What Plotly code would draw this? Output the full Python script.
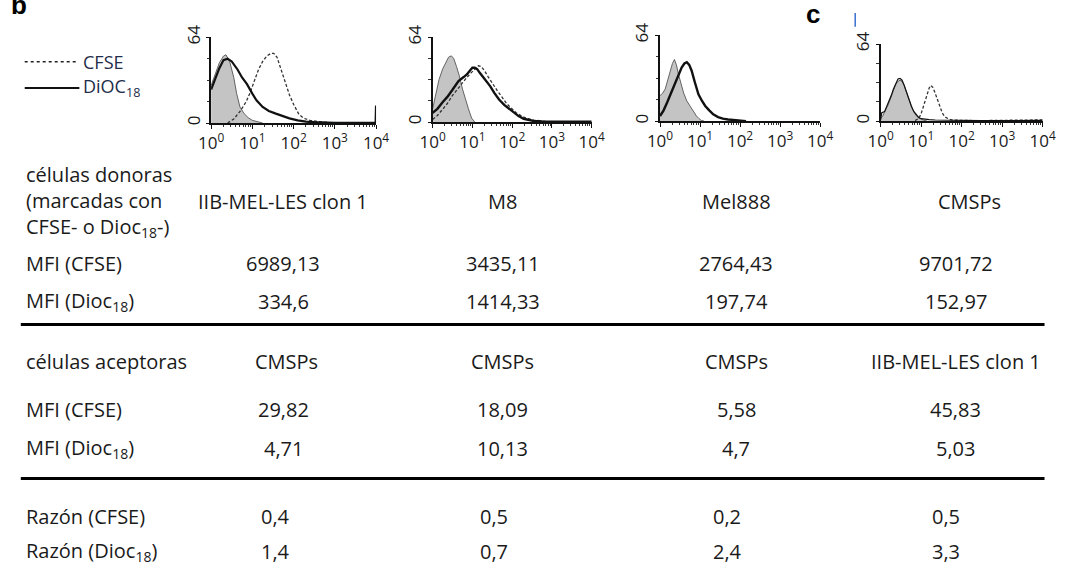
import plotly.graph_objects as go

W, H = 1079, 569

# ---------------- histogram data (x in decades, log10 of intensity; y counts 0-64) ----------------
P1_CTRL_X = [0, 0.1, 0.2, 0.3, 0.36, 0.45, 0.55, 0.62, 0.7, 0.8, 0.9, 1.0, 1.1, 1.25]
P1_CTRL_Y = [28, 36, 45, 50, 51, 46, 34, 22, 12, 7, 4, 2, 1, 0]
P1_DIOC_X = [0, 0.1, 0.2, 0.3, 0.4, 0.5, 0.64, 0.75, 0.87, 1.0, 1.1, 1.25, 1.4, 1.57, 1.75, 1.9,
             2.1, 2.3, 2.5, 2.7, 3.0, 3.5, 3.99, 4.0]
P1_DIOC_Y = [25, 33, 41, 47, 48, 46, 40, 34, 29, 22, 17, 12, 9, 7, 5, 3.5, 2, 1, 0.6, 0.3, 0.2, 0.2, 0.3, 13]
P1_CFSE_X = [0.4, 0.55, 0.71, 0.85, 0.95, 1.05, 1.15, 1.25, 1.35, 1.45, 1.52, 1.6, 1.7, 1.8, 1.9,
             2.0, 2.13, 2.25, 2.4, 2.6, 2.8, 3.0]
P1_CFSE_Y = [0, 3, 9, 16, 23, 32, 40, 46, 50, 52, 52, 49, 40, 30, 21, 14, 6.5, 3.5, 2, 1, 0.5, 0]

P2_CTRL_X = [0, 0.08, 0.16, 0.25, 0.33, 0.4, 0.47, 0.53, 0.6, 0.67, 0.75, 0.83, 0.9, 0.98, 1.06]
P2_CTRL_Y = [10, 20, 32, 40, 45, 49, 50, 48, 42, 35, 25, 16, 10, 3, 0]
P2_DIOC_X = [0, 0.12, 0.25, 0.37, 0.49, 0.57, 0.65, 0.78, 0.86, 0.94, 1.0, 1.06, 1.12, 1.19, 1.27,
             1.35, 1.45, 1.55, 1.67, 1.8, 1.92, 2.04, 2.16, 2.29, 2.42, 2.54, 2.75, 3.0, 3.5, 4.0]
P2_DIOC_Y = [7, 10, 15, 19, 24, 28, 31, 34, 36, 39, 41, 41, 40, 37, 34, 31, 27, 22, 17, 13, 10, 7,
             4.5, 2.5, 1.5, 0.8, 0.4, 0.3, 0.2, 0.2]
P2_CFSE_X = [0, 0.12, 0.25, 0.37, 0.49, 0.6, 0.72, 0.84, 0.96, 1.06, 1.15, 1.22, 1.3, 1.4, 1.5,
             1.62, 1.74, 1.86, 1.96, 2.1, 2.21, 2.35, 2.54, 2.7, 2.86, 3.0]
P2_CFSE_Y = [2, 5, 9.6, 14, 19.7, 24, 29, 33, 37, 40, 42.5, 42, 39, 34, 29, 24, 19, 14, 11, 7, 5, 3,
             1.5, 0.8, 0.5, 0]

P3_CTRL_X = [0, 0.07, 0.13, 0.2, 0.26, 0.31, 0.36, 0.41, 0.46, 0.52, 0.59, 0.67, 0.75, 0.83, 0.91,
             0.97, 1.03, 1.1]
P3_CTRL_Y = [19, 21, 24, 31, 38, 43, 46, 42, 35, 28, 21, 15, 11, 7, 3.8, 2, 0.5, 0]
P3_DIOC_X = [0, 0.09, 0.18, 0.28, 0.38, 0.46, 0.54, 0.61, 0.67, 0.73, 0.79, 0.87, 0.96, 1.05, 1.13,
             1.23, 1.33, 1.45, 1.57, 1.7, 1.82, 2.0, 2.15]
P3_DIOC_Y = [3.8, 8, 14, 21, 29, 35, 40, 43, 44, 42, 37.6, 29, 20, 15, 11.3, 8, 5, 3, 1.8, 1.2, 0.8,
             0.4, 0]

P4_CTRL_X = [0, 0.05, 0.1, 0.18, 0.26, 0.32, 0.38, 0.43, 0.48, 0.53, 0.58, 0.64, 0.7, 0.76, 0.82,
             0.88, 0.94, 1.0, 1.06, 1.15]
P4_CTRL_Y = [2, 4, 7.7, 13, 20, 26, 31, 33, 34, 33, 30, 24, 17, 12, 7.7, 4.5, 2.7, 1.5, 0.8, 0]
P4_DIOC_X = [0, 0.03, 0.1, 0.18, 0.26, 0.32, 0.38, 0.43, 0.48, 0.53, 0.58, 0.64, 0.7, 0.76, 0.82,
             0.88, 0.94, 1.0, 1.1, 1.2, 1.35, 1.5, 1.7, 2.0, 2.5, 3.0, 3.5, 4.0]
P4_DIOC_Y = [1, 7, 8, 14, 21, 27, 32, 35, 35.5, 34, 30, 24, 17.5, 12.5, 8, 5, 3, 2, 1.5, 1.2, 0.9,
             0.8, 0.6, 0.5, 0.4, 0.4, 0.5, 0.6]
P4_CFSE_X = [0.85, 0.94, 1.0, 1.06, 1.11, 1.16, 1.2, 1.24, 1.29, 1.34, 1.4, 1.46, 1.52, 1.58, 1.68,
             1.78, 1.9, 2.1, 2.5, 3.0, 3.3, 3.6, 3.8, 4.0]
P4_CFSE_Y = [0.5, 2, 6, 13, 19, 24, 27.5, 29.7, 28, 24, 18, 11.8, 7, 3.6, 1.8, 0.8, 0.6, 0.5, 0.4,
             0.6, 0.8, 1, 1.2, 1]

X_TICK_EXP = [0, 1, 2, 3, 4]
Y_TICKS = [0, 64]

# ---------------- table data ----------------
DONOR_CELLS = ["IIB-MEL-LES clon 1", "M8", "Mel888", "CMSPs"]
DONOR_MFI_CFSE = ["6989,13", "3435,11", "2764,43", "9701,72"]
DONOR_MFI_DIOC = ["334,6", "1414,33", "197,74", "152,97"]
ACCEPTOR_CELLS = ["CMSPs", "CMSPs", "CMSPs", "IIB-MEL-LES clon 1"]
ACC_MFI_CFSE = ["29,82", "18,09", "5,58", "45,83"]
ACC_MFI_DIOC = ["4,71", "10,13", "4,7", "5,03"]
RATIO_CFSE = ["0,4", "0,5", "0,2", "0,5"]
RATIO_DIOC = ["1,4", "0,7", "2,4", "3,3"]

FONT = "Open Sans"
TXT = "#1a1a1a"


def px(x):
    return x / W


def py(y):
    return 1 - y / H


fig = go.Figure()

panels = [
    dict(x=(203, 372), y=(25, 113), ctrl=(P1_CTRL_X, P1_CTRL_Y), dioc=(P1_DIOC_X, P1_DIOC_Y, 2.2),
         cfse=(P1_CFSE_X, P1_CFSE_Y)),
    dict(x=(430, 593), y=(25, 112), ctrl=(P2_CTRL_X, P2_CTRL_Y), dioc=(P2_DIOC_X, P2_DIOC_Y, 2.4),
         cfse=(P2_CFSE_X, P2_CFSE_Y)),
    dict(x=(663, 827), y=(23, 111), ctrl=(P3_CTRL_X, P3_CTRL_Y), dioc=(P3_DIOC_X, P3_DIOC_Y, 2.4),
         cfse=None),
    dict(x=(889, 1055), y=(32, 111), ctrl=(P4_CTRL_X, P4_CTRL_Y), dioc=(P4_DIOC_X, P4_DIOC_Y, 1.2),
         cfse=(P4_CFSE_X, P4_CFSE_Y)),
]

minor_x = [10 ** e * m for e in range(4) for m in range(2, 10)]

for i, p in enumerate(panels):
    n = "" if i == 0 else str(i + 1)
    xa, ya = "x" + n, "y" + n
    cx, cy = p["ctrl"]
    fig.add_trace(go.Scatter(x=[10 ** v for v in cx], y=cy, mode="lines", fill="tozeroy",
                             fillcolor="#c4c4c4", line=dict(color="#555555", width=0.9),
                             xaxis=xa, yaxis=ya, showlegend=False, hoverinfo="skip"))
    if p["cfse"] is not None:
        fx, fy = p["cfse"]
        fig.add_trace(go.Scatter(x=[10 ** v for v in fx], y=fy, mode="lines",
                                 line=dict(color="#333333", width=1.3, dash="3px,2px"),
                                 xaxis=xa, yaxis=ya, showlegend=False, hoverinfo="skip"))
    dx, dy, lw = p["dioc"]
    fig.add_trace(go.Scatter(x=[10 ** v for v in dx], y=dy, mode="lines",
                             line=dict(color="#111111", width=lw),
                             xaxis=xa, yaxis=ya, showlegend=False, hoverinfo="skip"))

    fig.layout["xaxis" + n] = dict(
        domain=[px(p["x"][0]), px(p["x"][1])], anchor=ya, type="log", range=[0, 4],
        showline=True, linecolor="#111", linewidth=1.5, showgrid=False, zeroline=False,
        tickmode="array", tickvals=[10 ** e for e in X_TICK_EXP],
        ticktext=["10<sup>%d</sup>" % e for e in X_TICK_EXP],
        ticks="outside", ticklen=4, tickwidth=1.2, tickcolor="#111",
        tickfont=dict(family=FONT, size=17, color=TXT),
        minor=dict(tickmode="array", tickvals=minor_x, ticks="outside", ticklen=2.5,
                   tickcolor="#333", tickwidth=0.8),
        fixedrange=True)
    fig.layout["yaxis" + n] = dict(
        domain=[py(p["y"][1]), py(p["y"][0])], anchor=xa, range=[0, 64],
        showline=True, linecolor="#111", linewidth=1.5, showgrid=False, zeroline=False,
        tickmode="array", tickvals=Y_TICKS, ticktext=[str(v) for v in Y_TICKS],
        tickangle=-90, ticks="outside", ticklen=3, tickwidth=1.2, tickcolor="#111",
        tickfont=dict(family=FONT, size=17, color=TXT),
        minor=dict(tickmode="array", tickvals=[16, 32, 48], ticks="outside", ticklen=2.5,
                   tickcolor="#333", tickwidth=0.8),
        fixedrange=True)

ann = []
shapes = []


def text(x, y, s, size=20, anchor="left", color=TXT, bold=False, family=FONT):
    ann.append(dict(x=px(x), y=py(y), xref="paper", yref="paper", text=("<b>%s</b>" % s) if bold else s,
                    showarrow=False, xanchor=anchor, yanchor="middle",
                    font=dict(family=family, size=size, color=color)))


# panel letters
text(-4, -8, "b", size=26, bold=True, family="Liberation Sans", color="#000")
text(811, 1, "c", size=26, bold=True, family="Liberation Sans", color="#000")
shapes.append(dict(type="line", xref="paper", yref="paper", x0=px(863), x1=px(863), y0=py(0), y1=py(14),
                   line=dict(color="#3a6fd0", width=1.5)))

# legend
LEG = "#1f2d4a"
shapes.append(dict(type="line", xref="paper", yref="paper", x0=px(12), x1=px(65), y0=py(50), y1=py(50),
                   line=dict(color="#222", width=1.6, dash="dot")))
shapes.append(dict(type="line", xref="paper", yref="paper", x0=px(12), x1=px(68), y0=py(77), y1=py(77),
                   line=dict(color="#111", width=2)))
text(70, 50, "CFSE", size=18, color=LEG)
text(70, 77, "DiOC<sub>18</sub>", size=18, color=LEG)

# table
COL_X = [277, 502, 741, 966]
DONOR_HDR_X = [277, 502, 741, 980]
RATIO_LEFT_X = [252, 476, 715, 940]
LEFT = 11

text(LEFT, 166, "células donoras")
text(LEFT, 193, "(marcadas con")
text(LEFT, 220, "CFSE- o Dioc<sub>18</sub>-)")
text(LEFT, 257, "MFI (CFSE)")
text(LEFT, 296, "MFI (Dioc<sub>18</sub>)")
text(LEFT, 358, "células aceptoras")
text(LEFT, 407, "MFI (CFSE)")
text(LEFT, 447, "MFI (Dioc<sub>18</sub>)")
text(LEFT, 517, "Razón (CFSE)")
text(LEFT, 553, "Razón (Dioc<sub>18</sub>)")

for j in range(4):
    text(DONOR_HDR_X[j], 194, DONOR_CELLS[j], anchor="center")
    text(COL_X[j], 257, DONOR_MFI_CFSE[j], anchor="center")
    text(COL_X[j], 296, DONOR_MFI_DIOC[j], anchor="center")
    text(COL_X[j] + (3 if j == 0 else 0), 358, ACCEPTOR_CELLS[j], anchor="center")
    text(COL_X[j], 407, ACC_MFI_CFSE[j], anchor="center")
    text(COL_X[j], 447, ACC_MFI_DIOC[j], anchor="center")
    text(RATIO_LEFT_X[j], 517, RATIO_CFSE[j], anchor="left")
    text(RATIO_LEFT_X[j], 553, RATIO_DIOC[j], anchor="left")

for yl in (320, 478):
    shapes.append(dict(type="line", xref="paper", yref="paper", x0=px(8), x1=px(1057), y0=py(yl), y1=py(yl),
                       line=dict(color="#000", width=3)))

fig.update_layout(width=W, height=H, margin=dict(l=0, r=0, t=0, b=0),
                  paper_bgcolor="white", plot_bgcolor="white",
                  annotations=ann, shapes=shapes, showlegend=False)

fig.write_html("out.html", config={"displayModeBar": False},
               post_script="document.body.style.margin='0';document.body.style.overflow='hidden';")
